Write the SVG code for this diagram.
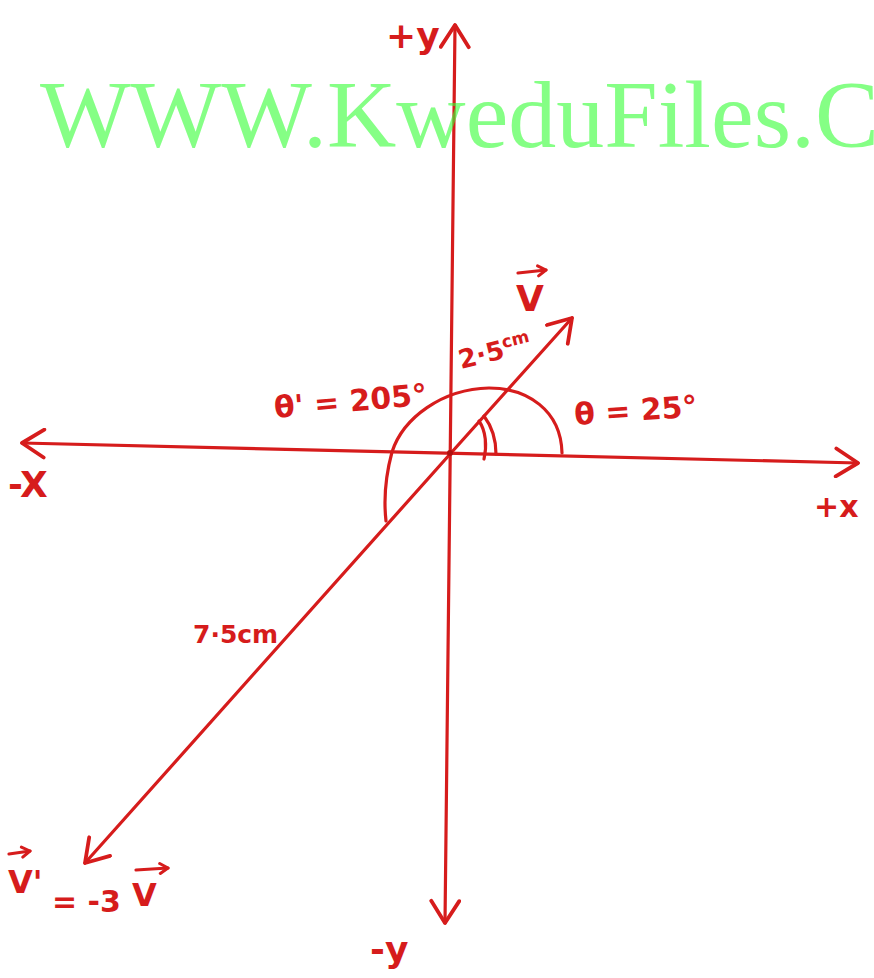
<svg xmlns="http://www.w3.org/2000/svg" width="874" height="978" viewBox="0 0 874 978">
<style>
.ln{fill:none;stroke:#d61c1c;stroke-width:3.2;stroke-linecap:round;stroke-linejoin:round}
.ax{marker-end:url(#ah);marker-start:url(#ah)}
.lb{font-family:"DejaVu Sans","Liberation Sans",sans-serif;fill:#d61c1c;font-weight:bold}
.wm{font-family:"Liberation Serif","Times New Roman",serif;font-size:96px;fill:#33ff33;fill-opacity:0.6}
</style>
<defs>
<marker id="ah" viewBox="-26 -16 30 32" markerWidth="30" markerHeight="32" refX="0" refY="0" orient="auto-start-reverse" markerUnits="userSpaceOnUse">
<path d="M-22,-14 L0,0 L-22,14" fill="none" stroke="#d61c1c" stroke-width="3.8" stroke-linecap="round" stroke-linejoin="round"/>
</marker>
<marker id="sh" viewBox="-10 -7 12 14" markerWidth="12" markerHeight="14" refX="0" refY="0" orient="auto" markerUnits="userSpaceOnUse">
<path d="M-8,-5 L0,0 L-8,5" fill="none" stroke="#d61c1c" stroke-width="3" stroke-linecap="round" stroke-linejoin="round"/>
</marker>
</defs>
<rect width="874" height="978" fill="#ffffff"/>
<g id="connectors">
<path id="x-axis" class="ln ax" d="M22,443 L858,463"/>
<path id="y-axis" class="ln ax" d="M455,25 L445,923"/>
<path id="vector-v" class="ln" d="M451,453 L572,318" marker-end="url(#ah)"/>
<path id="vector-v-prime" class="ln" d="M451,453 L85,863" marker-end="url(#ah)"/>
<circle cx="450" cy="453" r="3" fill="#b01010"/>
</g>
<g id="angle-theta-prime">
<path class="ln" d="M562,453 C561,410 527,388 489,388 C442,389 403,418 392,452 C385,478 384,503 386,521"/>
<text class="lb" x="275" y="418" font-size="30" transform="rotate(-5 275 418)">θ' = 205°</text>
</g>
<g id="angle-theta">
<path class="ln" d="M479,421 C486,431 487,446 484,459"/>
<path class="ln" d="M484,416 C493,428 496,440 496,454"/>
<text class="lb" x="575" y="425" font-size="30" transform="rotate(-4 575 425)">θ = 25°</text>
</g>
<g id="label-v">
<text class="lb" x="516" y="311" font-size="36">V</text>
<path class="ln" d="M518,273 L546,270" marker-end="url(#sh)"/>
</g>
<g id="label-2-5cm">
<text class="lb" x="461" y="369" font-size="26" transform="rotate(-14 461 369)">2·5<tspan font-size="17" dy="-10">cm</tspan></text>
</g>
<g id="label-7-5cm">
<text class="lb" x="193" y="643" font-size="25">7·5cm</text>
</g>
<g id="label-v-prime">
<text class="lb" x="8" y="893" font-size="32">V'</text>
<path class="ln" d="M9,854 L30,851" marker-end="url(#sh)"/>
<text class="lb" x="52" y="912" font-size="30">= -3</text>
<text class="lb" x="132" y="906" font-size="32">V</text>
<path class="ln" d="M136,870 L168,868" marker-end="url(#sh)"/>
</g>
<g id="label-plus-y"><text class="lb" x="386" y="48" font-size="36">+y</text></g>
<g id="label-minus-y"><text class="lb" x="370" y="962" font-size="36">-y</text></g>
<g id="label-minus-x"><text class="lb" x="8" y="497" font-size="36">-X</text></g>
<g id="label-plus-x"><text class="lb" x="814" y="517" font-size="30">+x</text></g>
<text class="wm" x="40" y="147">WWW.KweduFiles.C</text>
</svg>
